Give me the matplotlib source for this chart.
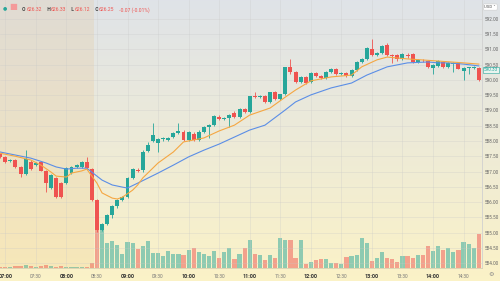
import numpy as np
import pandas as pd
import matplotlib.pyplot as plt

# 5-minute bars, 06:55 -> 14:50 (pre-market until 08:25), last bar still forming
times = pd.date_range('2024-01-01 06:55', '2024-01-01 14:50', freq='5min').strftime('%H:%M').tolist()

opens = [587.57, 587.48, 587.34, 587.38, 587.15, 586.92, 587.31, 587.21, 587.31, 587.02,
         586.46, 586.79, 586.62, 586.62, 586.95, 587.15, 587.15, 587.31, 587.08,
         586.07, 585.08, 585.28, 585.57, 585.87, 586.07, 586.16, 586.79, 587.05, 587.05,
         587.67, 588.00, 587.93, 588.07, 588.03, 588.13, 588.26, 588.30, 588.03, 588.23,
         588.03, 588.30, 588.46, 588.52, 588.79, 588.72, 588.75, 588.92, 588.79, 589.05,
         588.95, 589.48, 589.44, 589.48, 589.28, 589.61, 589.38, 589.54, 590.43, 590.26,
         589.93, 590.10, 589.93, 590.23, 590.13, 590.07, 590.26, 590.36, 590.20, 590.23,
         590.13, 590.33, 590.59, 590.69, 591.02, 590.82, 590.89, 591.15, 590.82, 590.82,
         590.69, 590.82, 590.85, 590.59, 590.66, 590.62, 590.39, 590.46, 590.59, 590.43,
         590.52, 590.56, 590.30, 590.39, 590.39, 590.39, 590.00]
highs = [587.61, 587.51, 587.41, 587.41, 587.18, 587.70, 587.38, 587.31, 587.34, 587.05,
         586.92, 586.82, 586.66, 587.15, 587.18, 587.24, 587.34, 587.48, 587.11,
         586.10, 585.30, 585.60, 585.90, 586.10, 586.20, 586.82, 587.10, 587.10, 587.70,
         587.97, 588.59, 588.10, 588.13, 588.13, 588.30, 588.59, 588.36, 588.33, 588.30,
         588.36, 588.49, 588.56, 588.85, 588.85, 588.79, 588.88, 588.98, 589.08, 589.08,
         589.48, 589.61, 589.51, 589.51, 589.61, 589.64, 589.54, 590.43, 590.69, 590.30,
         590.13, 590.13, 590.26, 590.26, 590.16, 590.30, 590.39, 590.39, 590.26, 590.26,
         590.36, 590.62, 590.72, 591.08, 591.34, 590.92, 591.15, 591.21, 590.85, 590.85,
         590.88, 590.88, 590.88, 590.69, 590.69, 590.66, 590.52, 590.66, 590.62, 590.59,
         590.59, 590.59, 590.43, 590.43, 590.46, 590.43, 590.08]
lows = [587.44, 587.28, 587.31, 587.11, 586.82, 586.89, 587.05, 587.18, 587.02, 586.33,
        586.43, 586.13, 586.13, 586.59, 586.92, 587.13, 587.13, 587.08, 586.03,
        585.02, 585.05, 585.25, 585.47, 585.80, 586.03, 586.13, 586.75, 586.98, 587.00,
        587.64, 587.97, 587.64, 588.00, 588.00, 588.10, 588.23, 588.00, 588.00, 588.00,
        588.00, 588.26, 588.10, 588.49, 588.69, 588.69, 588.46, 588.75, 588.75, 588.92,
        588.92, 589.41, 589.41, 589.25, 589.25, 589.35, 589.35, 589.51, 590.20, 589.90,
        589.90, 589.87, 589.90, 590.10, 590.03, 590.03, 590.23, 590.16, 590.16, 590.10,
        590.10, 590.30, 590.56, 590.66, 590.79, 590.79, 590.85, 590.79, 590.56, 590.62,
        590.66, 590.72, 590.56, 590.56, 590.59, 590.39, 590.20, 590.43, 590.39, 590.39,
        590.26, 590.36, 590.00, 590.20, 590.36, 589.98, 589.97]
closes = [587.48, 587.31, 587.38, 587.15, 586.92, 587.41, 587.08, 587.28, 587.02, 586.62,
          586.89, 586.16, 586.16, 587.11, 587.15, 587.21, 587.31, 587.11, 586.07,
          585.08, 585.28, 585.57, 585.87, 586.07, 586.16, 586.79, 587.08, 587.02, 587.64,
          587.87, 588.20, 588.07, 588.10, 588.10, 588.26, 588.33, 588.03, 588.30, 588.03,
          588.30, 588.46, 588.52, 588.82, 588.72, 588.75, 588.85, 588.79, 589.05, 588.95,
          589.48, 589.44, 589.48, 589.28, 589.61, 589.38, 589.54, 590.43, 590.26, 589.93,
          590.10, 589.90, 590.23, 590.13, 590.07, 590.26, 590.36, 590.20, 590.23, 590.13,
          590.33, 590.59, 590.69, 591.05, 590.82, 590.89, 591.11, 590.82, 590.80, 590.69,
          590.85, 590.79, 590.59, 590.66, 590.64, 590.43, 590.49, 590.62, 590.43, 590.56,
          590.56, 590.36, 590.39, 590.39, 590.43, 590.00, 590.05]
# volume, thousands of shares
volumes = [10, 10, 10, 20, 20, 30, 20, 10, 20, 30, 20, 10, 20, 10, 10, 10, 10, 10, 50,
           550, 400, 250, 270, 230, 140, 260, 250, 190, 220, 270, 150, 150, 120, 170, 140, 140, 130,
           180, 200, 160, 140, 120, 170, 100, 160, 200, 90, 140, 200,
           280, 140, 130, 80, 130, 100, 300, 280, 280, 100, 280, 40, 60, 80, 90, 90,
           50, 50, 40, 110, 120, 130, 300, 250, 70, 100, 160, 100, 90, 60, 120,
           120, 100, 130, 130, 220, 170, 220, 180, 200, 160, 180, 260, 240, 200, 340, 650]

# moving averages (bar index, value)
ema_fast_idx = [0, 3, 6, 8, 10, 11, 13, 14, 16, 17, 19, 20, 22, 23, 24, 26, 27, 28, 31, 34, 36, 40,
                43, 46, 49, 53, 56, 58, 61, 65, 69, 71, 74, 76, 80, 86, 91, 94]
ema_fast = [587.60, 587.50, 587.38, 587.21, 586.98, 586.85, 586.82, 586.95, 587.02, 587.08, 586.62,
            586.30, 586.13, 586.10, 586.16, 586.39, 586.56, 586.79, 587.28, 587.64, 587.97, 588.10,
            588.33, 588.52, 588.85, 589.08, 589.44, 589.67, 589.97, 590.10, 590.16, 590.43, 590.66,
            590.75, 590.69, 590.62, 590.56, 590.52]
ema_slow_idx = [0, 3, 6, 9, 11, 13, 15, 17, 18, 20, 22, 24, 25, 27, 31, 34, 37, 40, 43, 46, 49, 52,
                56, 58, 61, 65, 69, 72, 76, 80, 84, 86, 88, 91, 94]
ema_slow = [587.64, 587.54, 587.44, 587.28, 587.15, 587.08, 587.11, 587.11, 586.98, 586.72, 586.56,
            586.49, 586.46, 586.62, 586.95, 587.21, 587.48, 587.70, 587.90, 588.13, 588.36, 588.52,
            589.02, 589.28, 589.51, 589.74, 589.90, 590.16, 590.43, 590.56, 590.59, 590.56, 590.56,
            590.52, 590.46]

UP = '#26a69a'
DOWN = '#ef5350'
plt.rcParams['font.family'] = ['Roboto', 'DejaVu Sans']

fig = plt.figure(figsize=(5, 2.81), dpi=100)

# background gradient
bg = fig.add_axes([0, 0, 1, 1], zorder=0)
bg.axis('off')
top = np.array([0.875, 0.890, 0.910])
bot = np.array([0.985, 0.950, 0.780])
t = np.linspace(0, 1, 281)[:, None, None]
bg.imshow(top * (1 - t) + bot * t, aspect='auto', extent=[0, 1, 0, 1])

rect = [0, 13 / 281, 482 / 500, 268 / 281]
x = np.arange(len(times))
xlim = (-0.04, 94.62)
ylim = (583.84, 592.62)

# volume (behind)
vax = fig.add_axes(rect, zorder=1)
vax.patch.set_visible(False)
vax.axis('off')
vcol = [UP if c >= o else DOWN for o, c in zip(opens, closes)]
vax.bar(x, volumes, width=0.82, color=vcol, alpha=0.5, linewidth=0)
vax.set_xlim(*xlim)
vax.set_ylim(0, 2680)

ax = fig.add_axes(rect, zorder=2)
ax.patch.set_visible(False)
ax.set_xlim(*xlim)
ax.set_ylim(*ylim)

ax.axvspan(-1, 18.5, color='#e8a850', alpha=0.13, lw=0, zorder=0)

for i in range(len(times)):
    o, h, l, c = opens[i], highs[i], lows[i], closes[i]
    col = UP if c >= o else DOWN
    ax.vlines(i, l, h, color=col, lw=0.6, zorder=3)
    body = max(abs(c - o), 0.025)
    ax.bar(i, body, bottom=min(o, c), width=0.78, color=col, lw=0, zorder=4)

ax.plot(ema_slow_idx, ema_slow, color='#5b8ee6', lw=0.8, zorder=5)
ax.plot(ema_fast_idx, ema_fast, color='#f5a742', lw=0.8, zorder=5)

# axes
ticks = [times.index(s) for s in times[:-1] if s.endswith(':00') or s.endswith(':30')]
ax.set_xticks(ticks)
ax.set_xticklabels([])
for tk in ticks:
    lab = times[tk]
    full = lab.endswith(':00')
    ax.text(max(tk, 1.1), -0.022, lab, transform=ax.get_xaxis_transform(), ha='center', va='top',
            fontsize=4.0 if full else 3.4, fontweight='bold' if full else 'normal',
            color='#333333' if full else '#777777')
yt = np.arange(584, 592.01, 0.5)
ax.set_yticks(yt)
ax.yaxis.tick_right()
ax.set_yticklabels(['%.2f' % v for v in yt], fontsize=3.3, color='#666666')
ax.tick_params(length=0, pad=1.6)
ax.grid(True, color='#c8c8c8', lw=0.4, alpha=0.5)
for s in ['top', 'left']:
    ax.spines[s].set_visible(False)
ax.spines['right'].set_color('#d0d0d0')
ax.spines['right'].set_linewidth(0.6)
ax.spines['bottom'].set_color('#d8d0b0')
ax.spines['bottom'].set_linewidth(0.6)

# last value tag
ax.text(1.004, (590.33 - ylim[0]) / (ylim[1] - ylim[0]), '590.33', transform=ax.transAxes,
        fontsize=3.3, color=UP, va='center', ha='left',
        bbox=dict(boxstyle='square,pad=0.12', fc='#e8f4ef', ec=UP, lw=0.4))

# header legend
fig.text(0.006, 0.982, '\u25cf', color=UP, fontsize=3.5, va='top')
fig.text(0.018, 0.985, '\u25a0', color='#f49a9a', fontsize=6, va='top')
hx = 0.044
parts = [('O', '#444444'), ('626.32', DOWN), (' H', '#444444'), ('626.33', DOWN), (' L', '#444444'),
         ('626.12', DOWN), (' C', '#444444'), ('626.25', DOWN), (' -0.07 (-0.01%)', DOWN)]
for txt, col in parts:
    fig.text(hx, 0.975, txt, color=col, fontsize=3.6, va='top', fontweight='bold' if len(txt) <= 2 else 'normal')
    hx += 0.0066 * len(txt) if len(txt) > 2 else 0.0085

# currency box
fig.text(0.969, 0.982, 'USD \u02c5', fontsize=3.2, color='#555555', va='top', ha='left',
         bbox=dict(boxstyle='round,pad=0.25', fc='white', ec='#cccccc', lw=0.4))
fig.text(0.982, 0.022, '\u2699', fontsize=4.5, color='#888888', ha='center', va='center',
         family='DejaVu Sans')

fig.savefig('out.png', dpi=100)
